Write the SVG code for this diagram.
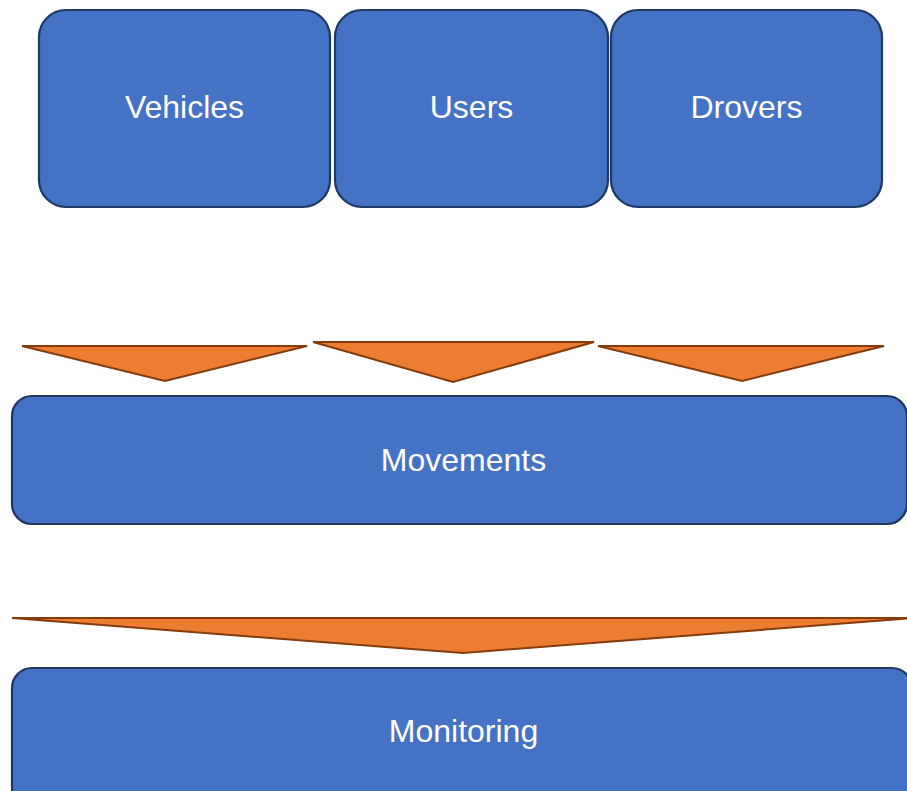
<svg xmlns="http://www.w3.org/2000/svg" width="907" height="791" viewBox="0 0 907 791">
<style>
.box{fill:#4472C4;stroke:#1F3864;stroke-width:2.2}
.arr{fill:#ED7D31;stroke:#843C0C;stroke-width:2;stroke-linejoin:miter}
.lbl{font-family:"Liberation Sans",Arial,sans-serif;font-size:32px;fill:#FFFFFF;text-anchor:middle}
</style>
<rect width="907" height="791" fill="#FFFFFF"/>
<g id="connectors">
<polygon class="arr" points="22,346 307,346 165,381"/>
<polygon class="arr" points="313,342 594,342 453,382"/>
<polygon class="arr" points="598,346 884,346 742,381"/>
<polygon class="arr" points="12,618 914,618 463,653"/>
</g>
<g id="vehicles">
<rect class="box" x="39" y="10" width="291" height="197" rx="27"/>
<text class="lbl" x="184.5" y="118">Vehicles</text>
</g>
<g id="users">
<rect class="box" x="335" y="10" width="273" height="197" rx="27"/>
<text class="lbl" x="471.5" y="118">Users</text>
</g>
<g id="drovers">
<rect class="box" x="611" y="10" width="271" height="197" rx="27"/>
<text class="lbl" x="746.5" y="118">Drovers</text>
</g>
<g id="movements">
<rect class="box" x="12" y="396" width="895" height="128" rx="20"/>
<text class="lbl" x="463.5" y="471">Movements</text>
</g>
<g id="monitoring">
<rect class="box" x="12" y="668" width="900" height="140" rx="20"/>
<text class="lbl" x="463.5" y="742">Monitoring</text>
</g>
</svg>
